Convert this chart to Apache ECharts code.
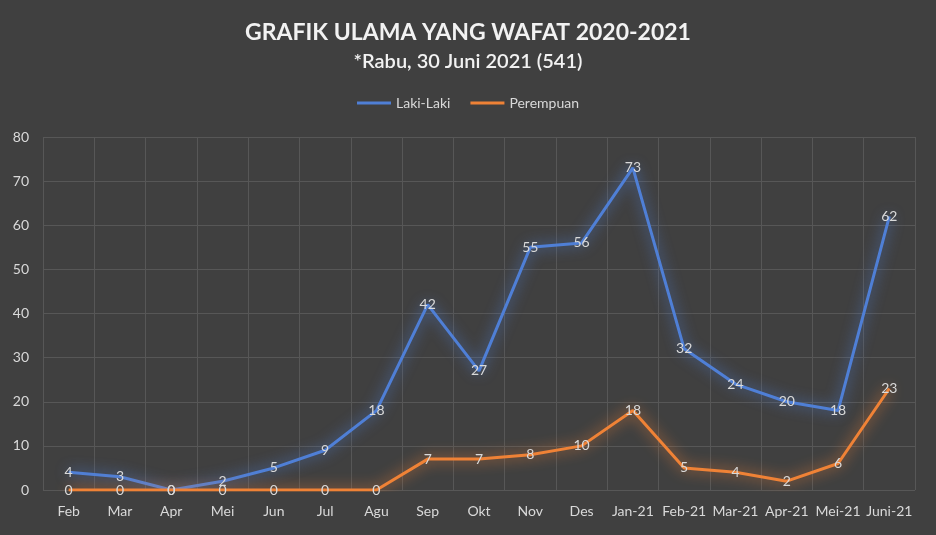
<!DOCTYPE html>
<html lang="id">
<head>
    <meta charset="utf-8">
    <script src="https://cdn.jsdelivr.net/npm/echarts@6/dist/echarts.min.js"></script>
    <style>
        html, body { margin: 0; padding: 0; background: #404040; }
    </style>
</head>
<body>
<div id="chart" style="width: 936px;height:535px;"></div>
<script type="text/javascript">
    // data
    var months = ["Feb", "Mar", "Apr", "Mei", "Jun", "Jul", "Agu", "Sep", "Okt", "Nov", "Des",
        "Jan-21", "Feb-21", "Mar-21", "Apr-21", "Mei-21", "Juni-21"];
    var lakiLaki = [4, 3, 0, 2, 5, 9, 18, 42, 27, 55, 56, 73, 32, 24, 20, 18, 62];
    var perempuan = [0, 0, 0, 0, 0, 0, 0, 7, 7, 8, 10, 18, 5, 4, 2, 6, 23];

    var font = 'Lato';
    var textColor = '#d9d9d9';

    function makeSeries(name, data, color) {
        return {
            name: name,
            type: 'line',
            data: data,
            symbol: 'circle',
            symbolSize: 0,
            itemStyle: { color: color },
            lineStyle: {
                color: color,
                width: 3,
                shadowColor: color,
                shadowBlur: 14
            },
            label: {
                show: true,
                position: 'inside',
                color: textColor,
                fontFamily: font,
                fontSize: 14
            },
            emphasis: { disabled: true }
        };
    }

    var chart = echarts.init(document.getElementById('chart'));
    var option = {
        backgroundColor: '#404040',
        animation: false,
        title: {
            text: 'GRAFIK ULAMA YANG WAFAT 2020-2021',
            subtext: '*Rabu, 30 Juni 2021 (541)',
            left: 'center',
            top: 16,
            itemGap: 8,
            textStyle: { color: '#f2f2f2', fontFamily: font, fontWeight: 'bold', fontSize: 23 },
            subtextStyle: { color: '#f2f2f2', fontFamily: font, fontWeight: 600, fontSize: 20 }
        },
        legend: {
            top: 91,
            left: 'center',
            icon: 'rect',
            itemWidth: 34,
            itemHeight: 3,
            itemGap: 20,
            textStyle: { color: textColor, fontFamily: font, fontSize: 14 },
            data: ['Laki-Laki', 'Perempuan']
        },
        grid: { left: 43, right: 21, top: 137, bottom: 45 },
        xAxis: {
            type: 'category',
            data: months,
            boundaryGap: true,
            axisLine: { show: false },
            axisTick: { show: false },
            splitLine: { show: true, lineStyle: { color: '#575757', width: 1 } },
            axisLabel: { color: textColor, fontFamily: font, fontSize: 14, margin: 14, interval: 0 }
        },
        yAxis: {
            type: 'value',
            min: 0,
            max: 80,
            interval: 10,
            axisLine: { show: false },
            axisTick: { show: false },
            splitLine: { lineStyle: { color: '#575757', width: 1 } },
            axisLabel: { color: textColor, fontFamily: font, fontSize: 14, margin: 14 }
        },
        series: [
            makeSeries('Laki-Laki', lakiLaki, '#4f7fd6'),
            makeSeries('Perempuan', perempuan, '#ef8236')
        ]
    };
    chart.setOption(option);
</script>
</body>
</html>
